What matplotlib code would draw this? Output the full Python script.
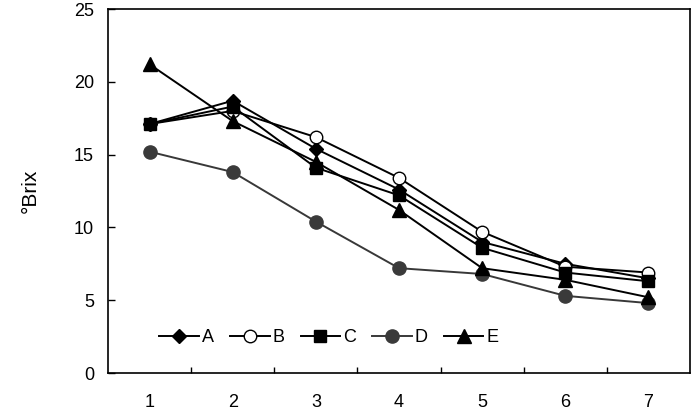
import matplotlib
matplotlib.use('Agg')
import matplotlib.pyplot as plt
from matplotlib.ticker import FixedLocator

plt.rcParams['font.family'] = ['Liberation Sans', 'DejaVu Sans']

# 数据
days = [1, 2, 3, 4, 5, 6, 7]
A = [17.1, 18.7, 15.4, 12.6, 9.0, 7.5, 6.5]
B = [17.1, 18.0, 16.2, 13.4, 9.7, 7.3, 6.9]
C = [17.1, 18.3, 14.1, 12.2, 8.6, 6.9, 6.3]
D = [15.2, 13.8, 10.4, 7.2, 6.8, 5.3, 4.8]
E = [21.2, 17.3, 14.5, 11.2, 7.2, 6.4, 5.2]

fig = plt.figure(figsize=(6.97, 4.11), dpi=100)
ax = fig.add_axes([108 / 697, 38 / 411, 582 / 697, 364 / 411])

lw = 1.4
ax.plot(days, A, color='black', lw=lw, marker='D', ms=7, label='A')
ax.plot(days, B, color='black', lw=lw, marker='o', ms=9, mfc='white', mec='black', label='B')
ax.plot(days, C, color='black', lw=lw, marker='s', ms=9, label='C')
ax.plot(days, D, color='#383838', lw=lw, marker='o', ms=9.5, mfc='#3a3a3a', mec='#3a3a3a', label='D')
ax.plot(days, E, color='black', lw=lw, marker='^', ms=9.5, label='E')

ax.set_xlim(0.5, 7.5)
ax.set_ylim(0, 25)
ax.set_yticks([0, 5, 10, 15, 20, 25])
ax.set_xticks(days)
ax.xaxis.set_minor_locator(FixedLocator([1.5, 2.5, 3.5, 4.5, 5.5, 6.5]))
ax.tick_params(axis='x', which='major', length=0, pad=15, labelsize=13)
ax.tick_params(axis='x', which='minor', direction='in', length=4, width=1)
ax.tick_params(axis='y', direction='in', length=5, width=1, labelsize=13, pad=10)
for s in ax.spines.values():
    s.set_linewidth(1.2)

ax.set_ylabel('°Brix', fontsize=15, labelpad=25)

ax.legend(loc='lower left', bbox_to_anchor=(0.06, 0.03), ncol=5, frameon=False,
          fontsize=13, handlelength=2.2, handletextpad=0.15, columnspacing=0.9)

fig.savefig('out.png', dpi=100)
